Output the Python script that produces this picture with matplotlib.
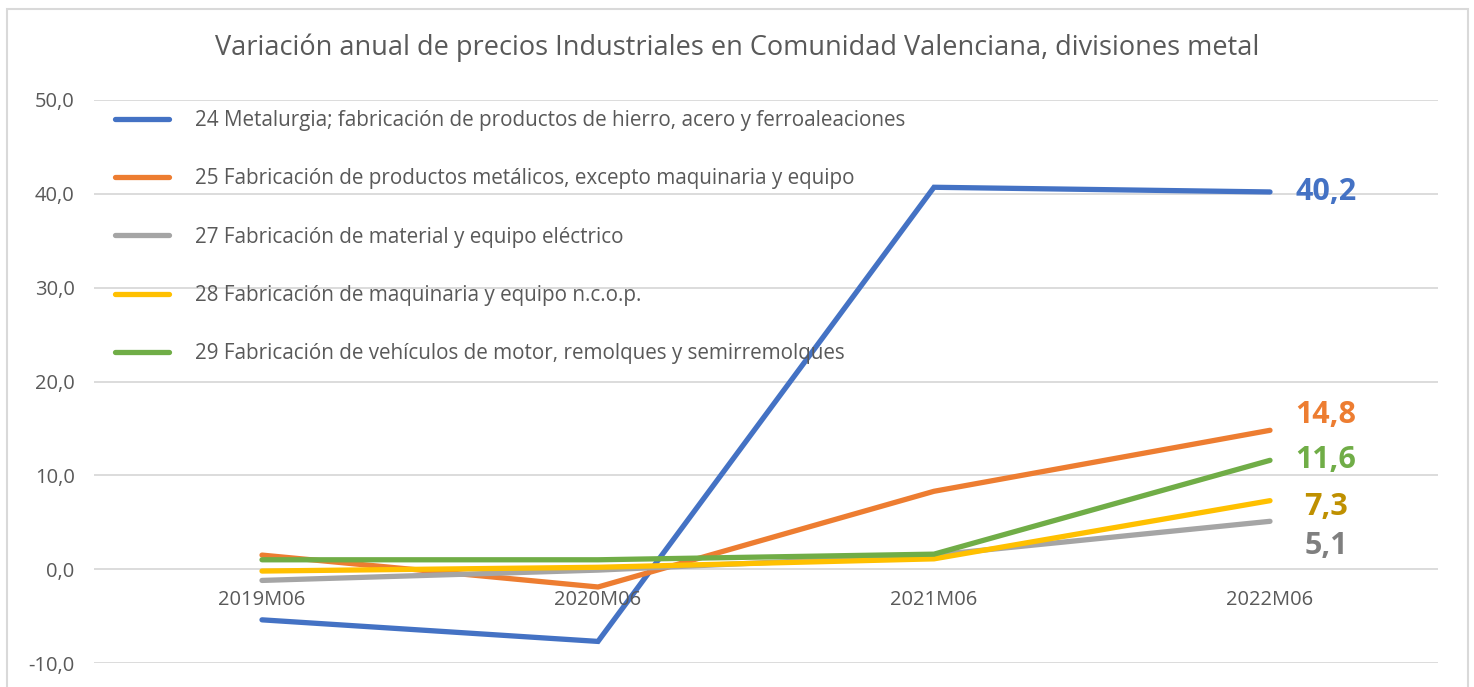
import matplotlib
matplotlib.use("Agg")
import matplotlib.pyplot as plt
from matplotlib.patches import Rectangle

categories = ["2019M06", "2020M06", "2021M06", "2022M06"]
series_names = [
    "24 Metalurgia; fabricación de productos de hierro, acero y ferroaleaciones",
    "25 Fabricación de productos metálicos, excepto maquinaria y equipo",
    "27 Fabricación de material y equipo eléctrico",
    "28 Fabricación de maquinaria y equipo n.c.o.p.",
    "29 Fabricación de vehículos de motor, remolques y semirremolques",
]
s24 = [-5.4, -7.7, 40.7, 40.2]
s25 = [1.5, -1.9, 8.3, 14.8]
s27 = [-1.2, -0.1, 1.5, 5.1]
s28 = [-0.2, 0.2, 1.1, 7.3]
s29 = [1.0, 1.0, 1.6, 11.6]
yticks = [-10, 0, 10, 20, 30, 40, 50]

series = [s24, s25, s27, s28, s29]
line_colors = ["#4472C4", "#ED7D31", "#A5A5A5", "#FFC000", "#70AD47"]
label_colors = ["#4472C4", "#ED7D31", "#7F7F7F", "#BF9000", "#70AD47"]
label_dy = [0, 15, -25, -6, 0]  # pixel offsets to avoid overlap

plt.rcParams['font.family'] = ['Open Sans', 'DejaVu Sans']

W, H = 1474, 687
fig = plt.figure(figsize=(W / 100, H / 100), dpi=100)
fig.patch.set_facecolor("white")
fig.patches.append(Rectangle((7 / W, -0.05), (1468 - 7) / W, 1.05 - 9 / H,
                             transform=fig.transFigure, fill=False,
                             edgecolor="#D9D9D9", linewidth=1.5))

ax = fig.add_axes([94 / W, 1 - 663 / H, (1438 - 94) / W, (663 - 100) / H])
x = list(range(len(categories)))
handles = []
for vals, name, c in zip(series, series_names, line_colors):
    h, = ax.plot(x, vals, color=c, linewidth=3.8, solid_capstyle="round",
                 solid_joinstyle="miter", label=name, zorder=3)
    handles.append(h)

ax.set_xlim(-0.5, len(categories) - 0.5)
ax.set_ylim(-10, 50)
ax.set_yticks(yticks)
ax.set_yticklabels([f"{v:.1f}".replace(".", ",") for v in yticks],
                   fontsize=14.5, color="#595959")
ax.tick_params(axis="y", length=0, pad=14)
ax.set_xticks([])
for xi, cat in zip(x, categories):
    ax.text(xi, -3.3, cat, ha="center", va="center",
            fontsize=14.5, color="#595959")
ax.grid(axis="y", color="#D9D9D9", linewidth=1.3, zorder=0)
for s in ax.spines.values():
    s.set_visible(False)

for vals, c, dy in zip(series, label_colors, label_dy):
    ax.annotate(f"{vals[-1]:.1f}".replace(".", ","), xy=(x[-1], vals[-1]),
                xytext=(56, dy), textcoords="offset pixels",
                ha="center", va="center", fontsize=22, fontweight="bold",
                color=c)

leg = ax.legend(handles=handles, loc="upper left",
                bbox_to_anchor=((115 - 94) / 1344, (663 - 110) / 563),
                frameon=False, fontsize=14.9, labelcolor="#595959",
                handlelength=2.6, handletextpad=1.25, labelspacing=1.8,
                borderaxespad=0, borderpad=0)

fig.text(737 / W, 1 - 48 / H,
         "Variación anual de precios Industriales en Comunidad Valenciana, divisiones metal",
         ha="center", va="center", fontsize=19.5, color="#595959")

fig.savefig("out.png", dpi=100)
